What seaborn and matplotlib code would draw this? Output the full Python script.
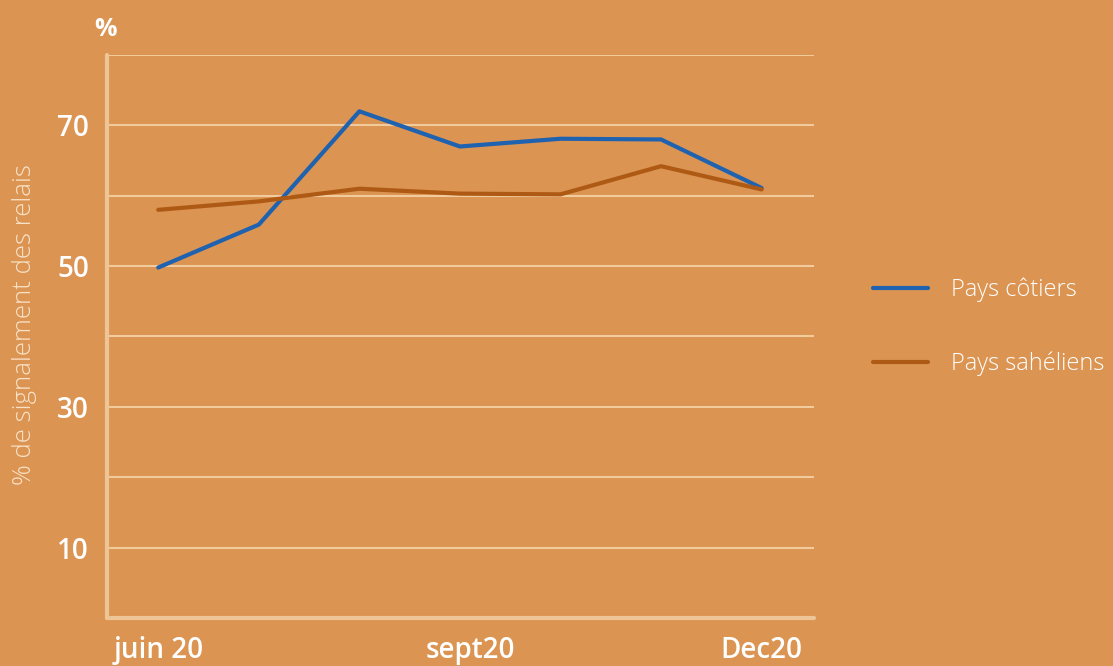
"""Part des relais qui signalent, pays côtiers vs pays sahéliens (juin-déc 2020)."""

import pandas as pd
import matplotlib
matplotlib.use("Agg")
import matplotlib.pyplot as plt
import matplotlib.transforms as mtransforms
import seaborn as sns

# values
months = ["juin 20", "juil20", "août20", "sept20", "oct20", "nov20", "Dec20"]
cotiers = [49.8, 55.9, 72.0, 67.0, 68.1, 68.0, 61.1]
saheliens = [58.0, 59.2, 61.0, 60.3, 60.2, 64.2, 60.9]
series_names = ["Pays côtiers", "Pays sahéliens"]
shown_months = ["juin 20", "sept20", "Dec20"]
y_ticks = [0, 10, 20, 30, 40, 50, 60, 70, 80]
y_labels = ["", "10", "", "30", "", "50", "", "70", ""]

BG = "#DB9452"
BLUE = "#1F62B0"
BROWN = "#AE5A14"
GRID = "#F2CB9C"
SPINE = "#EDC596"

sns.set_theme(style="white")
plt.rcParams["font.family"] = ["Open Sans", "DejaVu Sans"]

df = pd.DataFrame({
    "mois": list(range(len(months))) * 2,
    "valeur": cotiers + saheliens,
    "serie": [series_names[0]] * len(months) + [series_names[1]] * len(months),
})

fig = plt.figure(figsize=(11.13, 6.66), dpi=100, facecolor=BG)
ax = fig.add_axes([0.0961, 0.0721, 0.6352, 0.8453])
ax.set_facecolor(BG)

sns.lineplot(data=df, x="mois", y="valeur", hue="serie",
             palette=[BLUE, BROWN], linewidth=3, ax=ax, legend=False,
             zorder=3)

ax.set_xlim(-0.51, 6.52)
ax.set_ylim(0, 80)
ax.set_yticks(y_ticks)
ax.set_yticklabels(y_labels)
ax.set_xticks([months.index(m) for m in shown_months])
ax.set_xticklabels(shown_months)
ax.tick_params(axis="both", length=0, colors="white", labelsize=20)
ax.tick_params(axis="y", pad=13)
ax.tick_params(axis="x", pad=13)
for lab in ax.get_xticklabels() + ax.get_yticklabels():
    lab.set_fontweight("semibold")
# the "sept20" label sits a bit right of its tick in the original
sept_lab = ax.get_xticklabels()[1]
sept_lab.set_transform(sept_lab.get_transform() +
                       mtransforms.ScaledTranslation(10 / 100, 0, fig.dpi_scale_trans))

ax.grid(axis="y", color=GRID, linewidth=1.5, zorder=1)
ax.grid(axis="x", visible=False)
for side in ["top", "right"]:
    ax.spines[side].set_visible(False)
for side in ["left", "bottom"]:
    ax.spines[side].set_color(SPINE)
    ax.spines[side].set_linewidth(3)
    ax.spines[side].set_capstyle("round")

ax.set_xlabel("")
ax.set_ylabel("% de signalement des relais", color="#F8E2C8",
              fontsize=18.5, fontweight=300)
ax.yaxis.set_label_coords(-0.099, 0.522)

fig.text(0.095, 0.955, "%", color="white", fontsize=18,
         fontweight="bold", ha="center", va="center")

handles = [plt.Line2D([], [], color=BLUE, linewidth=3),
           plt.Line2D([], [], color=BROWN, linewidth=3)]
leg = fig.legend(handles, series_names, loc="center left",
                 bbox_to_anchor=(0.774, 0.509), frameon=False, borderpad=0,
                 handlelength=2.3, handletextpad=1.0, labelspacing=2.1,
                 fontsize=17)
for t in leg.get_texts():
    t.set_color("white")
    t.set_fontweight(300)

fig.savefig("out.png", dpi=100, facecolor=BG)
